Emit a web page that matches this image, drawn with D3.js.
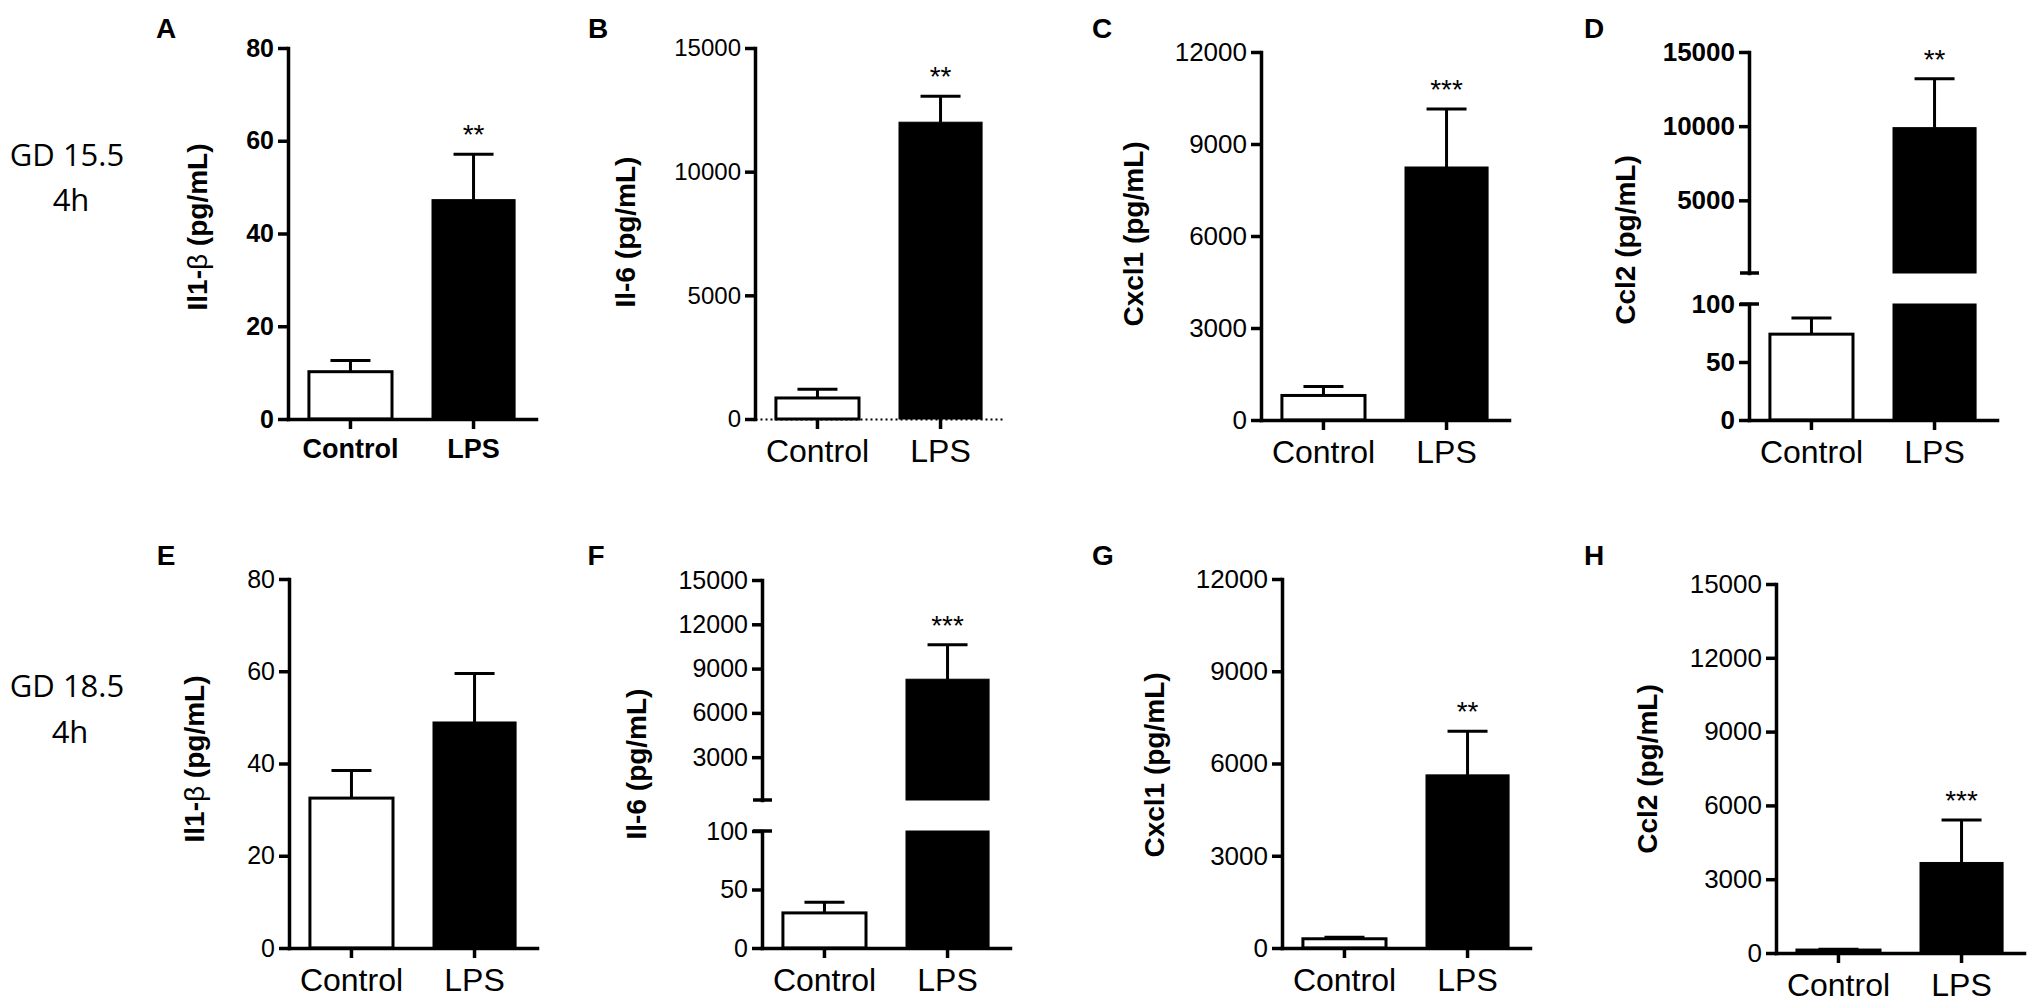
<!doctype html>
<html lang="en">
<head>
  <meta charset="utf-8">
  <title>Cytokines after LPS, GD 15.5 and GD 18.5</title>
  <style>
    body { margin: 0; background: #fff; }
  </style>
</head>
<body>
<div id="mychart"></div>
<script src="https://d3js.org/d3.v7.min.js"></script>
<script>
// ---- data ----
var categories = ["Control", "LPS"];
var panelLetters = ["A", "B", "C", "D", "E", "F", "G", "H"];
var cytokines = ["Il1-", "Il-6", "Cxcl1", "Ccl2", "Il1-", "Il-6", "Cxcl1", "Ccl2"];
var hasBeta = [true, false, false, false, true, false, false, false];
var rowLabels = ["GD 15.5", "GD 18.5"];
var rowSubLabels = ["4h", "4h"];

var controlMeans  = [10.2, 850, 800, 74, 32.5, 30, 300, 120];
var controlErrors = [2.4, 350, 290, 14, 6, 9, 50, 30];
var lpsMeans      = [47.3, 12000, 8250, 9900, 49, 8280, 5630, 3680];
var lpsErrors     = [9.8, 1050, 1890, 3300, 10.5, 2340, 1420, 1730];
var stars = ["**", "**", "***", "**", "", "***", "**", "***"];

var yMax = [80, 15000, 12000, 15000, 80, 15000, 12000, 15000];
var breakAt = [null, null, null, 100, null, 100, null, null];
var tickValues = [
  [0, 20, 40, 60, 80],
  [0, 5000, 10000, 15000],
  [0, 3000, 6000, 9000, 12000],
  [0, 50, 100],
  [0, 20, 40, 60, 80],
  [0, 50, 100],
  [0, 3000, 6000, 9000, 12000],
  [0, 3000, 6000, 9000, 12000, 15000]
];
var upperTickValues = [null, null, null, [5000, 10000, 15000], null,
  [3000, 6000, 9000, 12000, 15000], null, null];

// ---- layout ----
var width = 2033, height = 1004;
var axisX   = [288, 755, 1261, 1749, 289, 762, 1282, 1776];
var topY    = [48, 48, 52, 52, 579, 580, 579, 584];
var bottomY = [419, 419, 420, 420, 948, 948, 948, 953];
var breakHighY = [null, null, null, 273, null, 800, null, null];
var breakLowY  = [null, null, null, 304, null, 831, null, null];
var labelPos = [[197, 227], [625, 232], [1133, 234], [1625, 240],
                [194, 759], [636, 764], [1154, 765], [1647, 769]];
var letterPos = [[166, 28], [598, 28], [1102, 28], [1594, 28],
                 [166, 555], [596, 555], [1103, 555], [1594, 555]];
var tickFont = [[25, 700], [24, 400], [26, 400], [26, 700],
                [25, 400], [25, 400], [26, 400], [26, 400]];
var rowLabelPos = [[67, 155, 71, 200], [67, 686, 70, 732]];

var sans = "'Liberation Sans', Arial, sans-serif";

var svg = d3.select("#mychart").append("svg")
  .attr("width", width)
  .attr("height", height)
  .style("display", "block");

// row labels on the far left
rowLabels.forEach(function(t, r) {
  var p = rowLabelPos[r];
  svg.append("text").attr("x", p[0]).attr("y", p[1]).attr("dy", "0.35em")
    .attr("text-anchor", "middle")
    .style("font-family", "'Open Sans', sans-serif").style("font-size", "31px")
    .text(t);
  svg.append("text").attr("x", p[2]).attr("y", p[3]).attr("dy", "0.35em")
    .attr("text-anchor", "middle")
    .style("font-family", "'Open Sans', sans-serif").style("font-size", "31px")
    .text(rowSubLabels[r]);
});

function styleAxis(sel, i) {
  sel.select(".domain").attr("stroke", "#000").attr("stroke-width", 3.5)
    .attr("stroke-linecap", "square");
  sel.selectAll(".tick line").attr("stroke", "#000").attr("stroke-width", 3.5);
  sel.selectAll(".tick text")
    .attr("fill", "#000")
    .style("font-family", sans)
    .style("font-size", tickFont[i][0] + "px")
    .style("font-weight", tickFont[i][1]);
}

function drawPanel(i) {
  var g = svg.append("g");
  var x0 = axisX[i];
  var x = d3.scaleBand()
    .domain(categories)
    .range([x0, x0 + 248])
    .paddingInner(0.325)
    .paddingOuter(0.17);

  var segments;
  if (breakAt[i] != null) {
    segments = [
      { y: d3.scaleLinear().domain([0, breakAt[i]]).range([bottomY[i], breakLowY[i]]),
        ticks: tickValues[i] },
      { y: d3.scaleLinear().domain([breakAt[i], yMax[i]]).range([breakHighY[i], topY[i]]),
        ticks: upperTickValues[i] }
    ];
  } else {
    segments = [
      { y: d3.scaleLinear().domain([0, yMax[i]]).range([bottomY[i], topY[i]]),
        ticks: tickValues[i] }
    ];
  }

  var means = [controlMeans[i], lpsMeans[i]];
  var errs = [controlErrors[i], lpsErrors[i]];

  segments.forEach(function(seg, s) {
    var d0 = seg.y.domain()[0], d1 = seg.y.domain()[1];
    // bars
    categories.forEach(function(c, k) {
      var v = means[k];
      if (v <= d0) return;
      var vt = Math.min(v, d1);
      g.append("rect")
        .attr("x", x(c))
        .attr("width", x.bandwidth())
        .attr("y", seg.y(vt))
        .attr("height", seg.y(d0) - seg.y(vt))
        .attr("fill", k === 0 ? "#fff" : "#000")
        .attr("stroke", "#000")
        .attr("stroke-width", k === 0 ? 3 : 1);
      // error bar (upper only) in the segment holding the mean
      if (v <= d1) {
        var cx = x(c) + x.bandwidth() / 2;
        var yTop = seg.y(v + errs[k]);
        g.append("line").attr("x1", cx).attr("x2", cx)
          .attr("y1", seg.y(v)).attr("y2", yTop)
          .attr("stroke", "#000").attr("stroke-width", 3);
        g.append("line").attr("x1", cx - 20).attr("x2", cx + 20)
          .attr("y1", yTop).attr("y2", yTop)
          .attr("stroke", "#000").attr("stroke-width", 3);
        if (k === 1 && stars[i]) {
          g.append("text")
            .attr("x", cx).attr("y", yTop - 10)
            .attr("text-anchor", "middle")
            .style("font-family", sans).style("font-size", "28px")
            .text(stars[i]);
        }
      }
    });

    // y axis for this segment
    var ax = g.append("g")
      .attr("transform", "translate(" + x0 + ",0)")
      .call(d3.axisLeft(seg.y).tickValues(seg.ticks).tickSize(10).tickSizeOuter(0)
        .tickPadding(4).tickFormat(d3.format("d")));
    styleAxis(ax, i);

    // break marks
    if (breakAt[i] != null) {
      var yb = seg.y(breakAt[i]);
      g.append("line").attr("x1", x0 - 9).attr("x2", x0 + 10)
        .attr("y1", yb).attr("y2", yb)
        .attr("stroke", "#000").attr("stroke-width", 3.5);
    }
  });

  // x axis
  var xa = g.append("g")
    .attr("transform", "translate(0," + bottomY[i] + ")")
    .call(d3.axisBottom(x).tickSize(10).tickSizeOuter(0).tickPadding(10));
  styleAxis(xa, i);
  xa.selectAll(".tick text")
    .style("font-size", i === 0 ? "27px" : "32px")
    .style("font-weight", i === 0 ? 700 : 400);
  if (i === 1) {
    xa.select(".domain").attr("stroke-width", 2).attr("stroke-dasharray", "2,3")
      .attr("stroke-linecap", "butt");
  }

  // y label
  var lp = labelPos[i];
  var yl = g.append("text")
    .attr("transform", "translate(" + lp[0] + "," + lp[1] + ") rotate(-90)")
    .attr("text-anchor", "middle")
    .attr("dy", "0.35em")
    .style("font-family", sans)
    .style("font-size", "28px")
    .style("font-weight", 700);
  yl.append("tspan").text(cytokines[i]);
  if (hasBeta[i]) {
    yl.append("tspan").style("font-weight", 400).text("\u03B2");
  }
  yl.append("tspan").text(" (pg/mL)");

  // panel letter
  g.append("text")
    .attr("x", letterPos[i][0]).attr("y", letterPos[i][1])
    .attr("dy", "0.35em").attr("text-anchor", "middle")
    .style("font-family", sans).style("font-size", "28px").style("font-weight", 700)
    .text(panelLetters[i]);
}

panelLetters.forEach(function(d, i) { drawPanel(i); });
</script>
</body>
</html>
